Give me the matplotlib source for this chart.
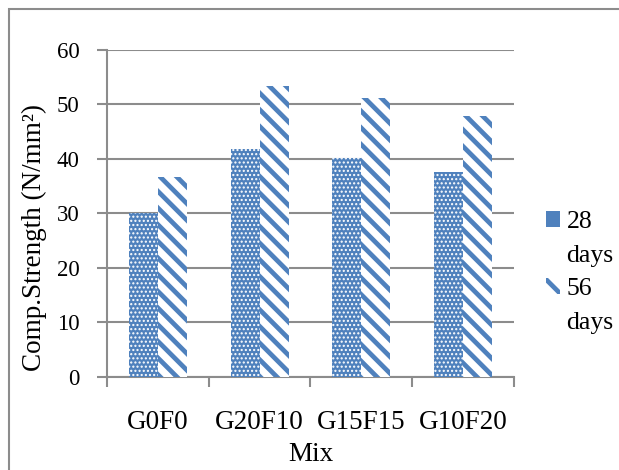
import numpy as np
import matplotlib
matplotlib.use("Agg")
import matplotlib.pyplot as plt
from matplotlib.patches import Rectangle, Patch

mixes = ["G0F0", "G20F10", "G15F15", "G10F20"]
days28 = [30.0, 41.8, 40.2, 37.5]
days56 = [36.6, 53.4, 51.2, 47.8]
legend_lines = ["28", "days", "56", "days"]

BLUE = "#4F81BD"
GRID = "#8c8c8c"
DOT_LW = 1.0
STRIPE_LW = 3.4

plt.rcParams["font.family"] = ["Liberation Serif", "DejaVu Serif"]
plt.rcParams["font.size"] = 19.5

fig = plt.figure(figsize=(6.19, 4.70), dpi=100)
ax = fig.add_axes([0.173, 0.198, 0.657, 0.696])

x = np.arange(len(mixes))
w = 0.285

plt.rcParams["hatch.linewidth"] = DOT_LW
b1 = ax.bar(x - w / 2, days28, w, color=BLUE, edgecolor="white", linewidth=0,
            hatch="....", zorder=3)
plt.rcParams["hatch.linewidth"] = STRIPE_LW
b2 = ax.bar(x + w / 2, days56, w, color="white", edgecolor=BLUE, linewidth=0,
            hatch="\\\\", zorder=3)
for bars, lw in ((b1, DOT_LW), (b2, STRIPE_LW)):
    for p in bars:
        if hasattr(p, "set_hatch_linewidth"):
            p.set_hatch_linewidth(lw)

ax.set_ylim(0, 60)
ax.set_xlim(-0.5, len(mixes) - 0.5)
ax.set_yticks(np.arange(0, 61, 10))
ax.yaxis.grid(True, color=GRID, linewidth=1.5, zorder=0)
ax.set_axisbelow(True)

ax.set_xticks(x)
ax.set_xticklabels(mixes)
ax.set_xticks(np.arange(-0.5, len(mixes), 1), minor=True)
ax.tick_params(axis="x", which="major", length=0, pad=24)
ax.tick_params(axis="x", which="minor", length=7, width=1.5, color=GRID)
ax.tick_params(axis="y", length=7, width=1.5, color=GRID, pad=13, labelsize=16.5)

for side in ["top", "right"]:
    ax.spines[side].set_visible(False)
for side in ["left", "bottom"]:
    ax.spines[side].set_color(GRID)
    ax.spines[side].set_linewidth(1.5)

ax.set_xlabel("Mix", labelpad=5)
ax.set_ylabel("Comp.Strength (N/mm²)")
ax.yaxis.set_label_coords(-0.147, 0.425)

# legend: label wraps onto a second line, marker sits on the first
plt.rcParams["hatch.linewidth"] = STRIPE_LW
handles = [
    Patch(facecolor=BLUE, edgecolor="none"),
    Patch(facecolor="none", edgecolor="none"),
    Patch(facecolor="white", edgecolor=BLUE, linewidth=0, hatch="\\"),
    Patch(facecolor="none", edgecolor="none"),
]
ax.legend(handles, legend_lines, loc="upper left",
          bbox_to_anchor=(546 / 619, 1 - 211 / 470), bbox_transform=fig.transFigure,
          frameon=False, fontsize=18.5, borderpad=0, borderaxespad=0,
          handlelength=0.55, handleheight=0.55, handletextpad=0.25,
          labelspacing=0.45)

fig.add_artist(Rectangle((9 / 619, -0.1), 1.2, 1.1 - 9 / 470,
                         transform=fig.transFigure, fill=False,
                         edgecolor=GRID, linewidth=1.5))

fig.savefig("out.png", dpi=100)
